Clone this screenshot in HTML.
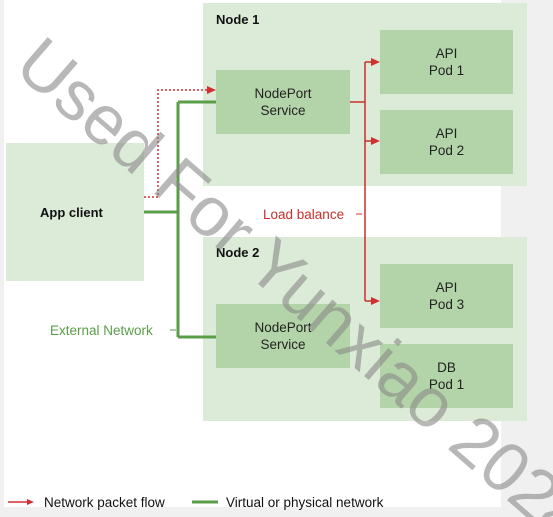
<!DOCTYPE html>
<html><head><style>
body{margin:0;width:553px;height:517px;background:#f0f0f0;overflow:hidden;position:relative;font-family:"Liberation Sans",sans-serif}
.w{position:absolute;left:4px;top:0;width:497px;height:507px;background:#fff}
.b{position:absolute;background:#dcebd8}
.p{position:absolute;background:#b3d4a9;display:flex;align-items:center;justify-content:center;text-align:center;font-size:13.5px;line-height:17px;color:#222}
.t{position:absolute;font-size:13px;font-weight:bold;color:#111}
</style></head><body>
<div class="w"></div>
<div class="b" style="left:203px;top:3px;width:324px;height:183px"></div>
<div class="b" style="left:203px;top:237px;width:324px;height:184px"></div>
<div class="b" style="left:6px;top:143px;width:138px;height:138px"></div>
<div class="t" style="left:216px;top:12px">Node 1</div>
<div class="t" style="left:216px;top:245px">Node 2</div>
<div class="t" style="left:40px;top:205px">App client</div>
<div class="p" style="left:216px;top:70px;width:134px;height:64px">NodePort<br>Service</div>
<div class="p" style="left:216px;top:304px;width:134px;height:64px">NodePort<br>Service</div>
<div class="p" style="left:380px;top:30px;width:133px;height:64px">API<br>Pod 1</div>
<div class="p" style="left:380px;top:110px;width:133px;height:64px">API<br>Pod 2</div>
<div class="p" style="left:380px;top:264px;width:133px;height:64px">API<br>Pod 3</div>
<div class="p" style="left:380px;top:344px;width:133px;height:64px">DB<br>Pod 1</div>
<svg width="553" height="517" style="position:absolute;left:0;top:0">
<g stroke="#5a9e48" stroke-width="3" fill="none">
<path d="M144 212H178M178 102V337M178 102H216M178 337H216"/>
</g>
<line x1="170" y1="330" x2="176" y2="330" stroke="#5a9e48" stroke-width="1"/>
<path d="M144 197H158V90H208" stroke="#d03030" stroke-width="1.5" stroke-dasharray="2,2" fill="none"/>
<polygon points="216,90 207,86 207,94" fill="#d03030"/>
<g stroke="#c8302c" stroke-width="1.5" fill="none">
<path d="M350 102H365M365 62V301M365 62H372M365 141H372M365 301H372"/>
</g>
<polygon points="380,62 371,58 371,66" fill="#d03030"/>
<polygon points="380,141 371,137 371,145" fill="#d03030"/>
<polygon points="380,301 371,297 371,305" fill="#d03030"/>
<line x1="356" y1="214" x2="362" y2="214" stroke="#d03030" stroke-width="1"/>
<line x1="8" y1="502" x2="30" y2="502" stroke="#d03030" stroke-width="1.5"/>
<polygon points="34,502 27,499 27,505" fill="#d03030"/>
<line x1="192" y1="502" x2="218" y2="502" stroke="#5a9e48" stroke-width="3"/>
<text x="44" y="507" font-size="13.5" fill="#111" font-family="Liberation Sans">Network packet flow</text>
<text x="226" y="507" font-size="13.5" fill="#111" font-family="Liberation Sans">Virtual or physical network</text>
<text x="263" y="219" font-size="13.5" fill="#c8302c" font-family="Liberation Sans">Load balance</text>
<text x="50" y="335" font-size="13.5" fill="#5a9e48" font-family="Liberation Sans">External Network</text>
<text x="0" y="0" transform="translate(12,70) rotate(41)" font-size="70" fill="#888" fill-opacity="0.6" font-family="Liberation Sans">Used For Yunxiao 2024</text>
</svg>
</body></html>
